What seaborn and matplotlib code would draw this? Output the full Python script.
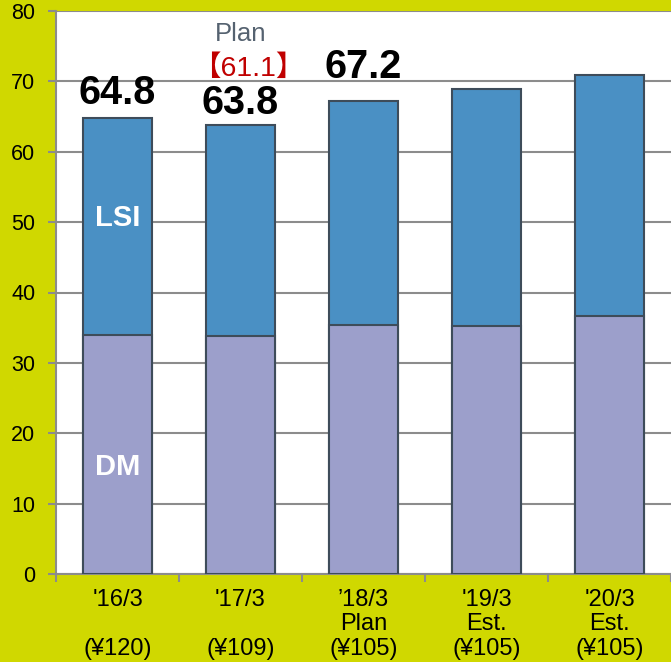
import numpy as np
import pandas as pd
import matplotlib
matplotlib.use("Agg")
import matplotlib.pyplot as plt
import seaborn as sns

# values (billion yen)
periods = ["'16/3\n\n(¥120)", "'17/3\n\n(¥109)", "’18/3\nPlan\n(¥105)",
           "'19/3\nEst.\n(¥105)", "'20/3\nEst.\n(¥105)"]
dm = [33.9, 33.8, 35.4, 35.2, 36.6]
lsi = [30.9, 30.0, 31.8, 33.7, 34.3]
totals_shown = ["64.8", "63.8", "67.2", None, None]

BG = "#D0D800"
LSI_C = "#4A90C4"
DM_C = "#9C9FCB"
EDGE = "#3E4C5A"
GRID = "#8C8C8C"

sns.set_theme(style="white")
plt.rcParams['font.family'] = ['Liberation Sans', 'Noto Sans CJK JP', 'DejaVu Sans']

df = pd.DataFrame({"period": periods, "DM": dm, "LSI": lsi})
df["total"] = df["DM"] + df["LSI"]

fig = plt.figure(figsize=(6.71, 6.62), dpi=100, facecolor=BG)
ax = fig.add_axes([56/671, 88/662, 615/671, 563/662])
ax.set_facecolor("white")

sns.barplot(data=df, x="period", y="total", color=LSI_C, width=0.56,
            edgecolor=EDGE, linewidth=1.5, saturation=1, ax=ax, zorder=3)
sns.barplot(data=df, x="period", y="DM", color=DM_C, width=0.56,
            edgecolor=EDGE, linewidth=1.5, saturation=1, ax=ax, zorder=4)

ax.set_ylim(0, 80)
ax.set_xlim(-0.5, 4.5)
ax.set_yticks(range(0, 81, 10))
ax.yaxis.grid(True, color=GRID, linewidth=1.5, zorder=0)
ax.set_axisbelow(True)
ax.set_xlabel("")
ax.set_ylabel("")

for s in ["top", "right"]:
    ax.spines[s].set_visible(False)
for s in ["left", "bottom"]:
    ax.spines[s].set_color(GRID)
    ax.spines[s].set_linewidth(1.5)

ax.tick_params(axis="y", left=True, length=6, width=1.5, color=GRID,
               labelsize=15.5, pad=9, labelcolor="black")
ax.tick_params(axis="x", which="major", bottom=False, labelsize=17, pad=4.5,
               labelcolor="black")
ax.set_xticks(np.arange(-0.5, 5, 1), minor=True)
ax.tick_params(axis="x", which="minor", bottom=True, length=6, width=1.5,
               color=GRID)
for lbl in ax.get_xticklabels():
    lbl.set_linespacing(1.17)
    lbl.set_verticalalignment("top")

# total labels
offsets = {0: 3.6, 1: 3.1, 2: 4.8}
for i, t in enumerate(totals_shown):
    if t is None:
        continue
    ax.text(i, df["total"][i] + offsets[i], t, ha="center", va="center",
            fontsize=28.5, fontweight="bold", color="black", zorder=5)

ax.text(1, 76.8, "Plan", ha="center", va="center", fontsize=18.5,
        color="#556270", zorder=5)
ax.text(1.06, 71.8, "【61.1】", ha="center", va="center", fontsize=20.5,
        color="#C00000", zorder=5)

ax.text(0, 50.6, "LSI", ha="center", va="center", fontsize=21,
        fontweight="bold", color="white", zorder=5)
ax.text(0, 15.2, "DM", ha="center", va="center", fontsize=21,
        fontweight="bold", color="white", zorder=5)

fig.savefig("out.png", dpi=100, facecolor=BG)
